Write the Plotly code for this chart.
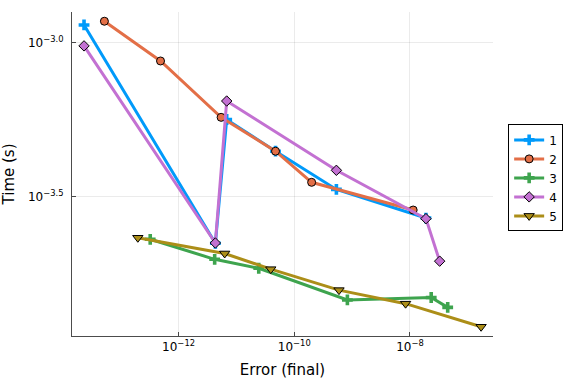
import plotly.graph_objects as go

# log10 values
s1_logx = [-13.634, -11.364, -11.168, -10.324, -9.272, -7.724]
s1_logy = [-2.942, -3.651, -3.249, -3.352, -3.476, -3.569]
s2_logx = [-13.282, -12.312, -11.265, -10.324, -9.700, -7.945]
s2_logy = [-2.930, -3.059, -3.242, -3.352, -3.453, -3.543]
s3_logx = [-12.490, -11.376, -10.614, -9.082, -7.633, -7.348]
s3_logy = [-3.638, -3.703, -3.732, -3.835, -3.827, -3.859]
s4_logx = [-13.634, -11.364, -11.168, -9.272, -7.724, -7.487]
s4_logy = [-3.010, -3.650, -3.189, -3.414, -3.571, -3.709]
s5_logx = [-12.704, -11.203, -10.406, -9.227, -8.076, -6.771]
s5_logy = [-3.633, -3.684, -3.735, -3.803, -3.847, -3.922]

names = ["1", "2", "3", "4", "5"]
colors = ["#009AFA", "#E36F47", "#3EA44E", "#C371D2", "#AC8E18"]
symbols = ["cross", "circle", "cross", "diamond", "triangle-down"]
msizes = [9, 8, 9, 8, 9]

xtick_vals = [1e-12, 1e-10, 1e-8]
xtick_text = ["10<sup>−12</sup>", "10<sup>−10</sup>", "10<sup>−8</sup>"]
ytick_vals = [10 ** -3.5, 10 ** -3.0]
ytick_text = ["10<sup>−3.5</sup>", "10<sup>−3.0</sup>"]

series = [(s1_logx, s1_logy), (s2_logx, s2_logy), (s3_logx, s3_logy),
          (s4_logx, s4_logy), (s5_logx, s5_logy)]

fig = go.Figure()
for (lx, ly), name, c, sym, ms in zip(series, names, colors, symbols, msizes):
    outline = 0 if sym == "cross" else 1
    fig.add_trace(go.Scatter(
        x=[10 ** v for v in lx], y=[10 ** v for v in ly],
        mode="lines+markers", name=name,
        line=dict(color=c, width=3),
        marker=dict(symbol=sym, size=ms, color=c,
                    line=dict(color="black", width=outline)),
    ))

font = "DejaVu Sans"
fig.update_layout(
    width=576, height=384,
    margin=dict(l=72, r=83, t=12, b=48),
    paper_bgcolor="white", plot_bgcolor="white",
    font=dict(family=font, color="black"),
    legend=dict(x=1.036, y=0.488, xanchor="left", yanchor="middle",
                bordercolor="black", borderwidth=1,
                font=dict(size=12), tracegroupgap=0,
                itemwidth=30),
    showlegend=True,
)
fig.update_xaxes(
    type="log", range=[-13.842, -6.565], automargin=False,
    tickvals=xtick_vals, ticktext=xtick_text,
    showgrid=True, gridcolor="rgba(0,0,0,0.08)", gridwidth=1,
    showline=True, linecolor="rgba(0,0,0,0.7)", linewidth=1,
    ticks="inside", ticklen=4, tickcolor="rgba(0,0,0,0.7)",
    zeroline=False, mirror=False,
    tickfont=dict(size=12),
    title=dict(text="Error (final)", font=dict(size=15), standoff=11),
)
fig.update_yaxes(
    type="log", range=[-3.952, -2.900], automargin=False,
    tickvals=ytick_vals, ticktext=ytick_text,
    showgrid=True, gridcolor="rgba(0,0,0,0.08)", gridwidth=1,
    showline=True, linecolor="rgba(0,0,0,0.7)", linewidth=1,
    ticks="inside", ticklen=4, tickcolor="rgba(0,0,0,0.7)",
    zeroline=False, mirror=False,
    tickfont=dict(size=12), ticklabelstandoff=5,
    title=dict(text="Time (s)", font=dict(size=15), standoff=10),
)

fig.write_html("out.html", config={"displayModeBar": False},
               post_script="document.body.style.margin='0';")
